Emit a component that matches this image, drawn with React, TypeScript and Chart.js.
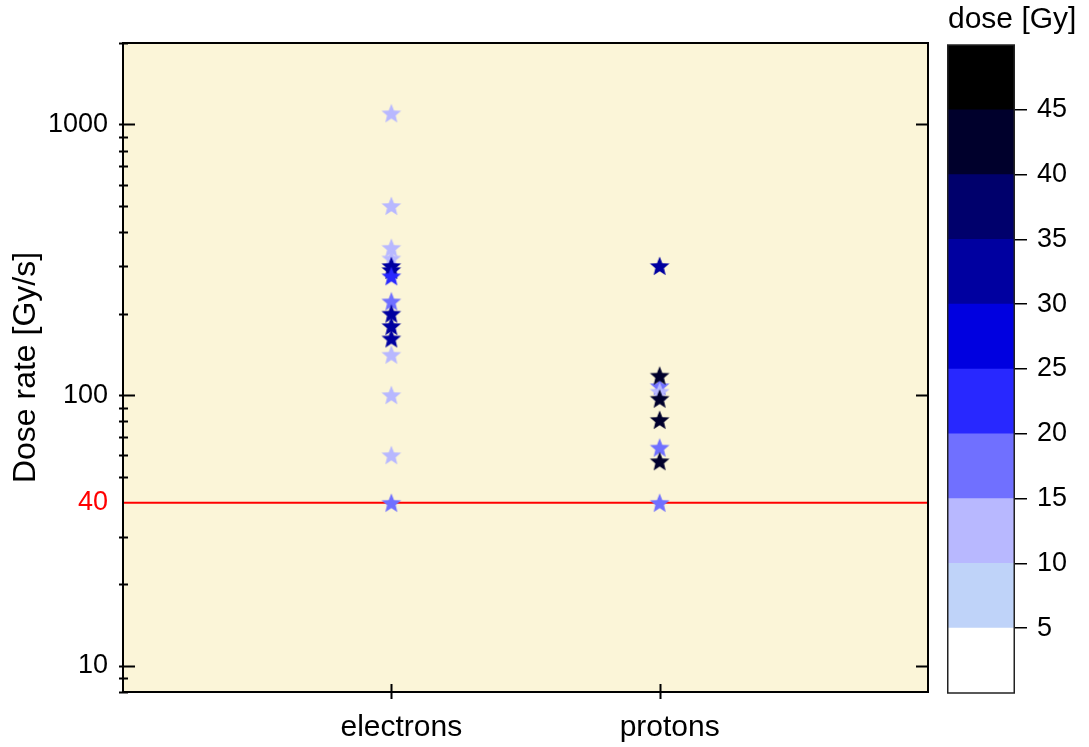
import React, { useEffect, useRef } from "react";
import { Chart, registerables } from "chart.js";

Chart.register(...registerables);

// ---- data ----
const categories = ["electrons", "protons"];

const electronRates = [1100, 500, 350, 320, 300, 290, 275, 222, 200, 180, 162, 141, 100, 60, 40];
const electronDoses = [12, 12, 12, 12, 32, 32, 22, 17, 32, 32, 32, 12, 12, 12, 17];

const protonRates = [300, 108, 103, 118, 97, 81, 64, 57, 40];
const protonDoses = [32, 17, 12, 42, 42, 42, 17, 42, 17];

const thresholdRate = 40;
const rateMin = 8;
const rateMax = 2000;
const labelledRates = [10, 100, 1000];
const minorRates = [8, 9, 20, 30, 50, 60, 70, 80, 90, 200, 300, 400, 500, 600, 700, 800, 900, 2000];

const doseLevels = [0, 5, 10, 15, 20, 25, 30, 35, 40, 45, 50];
const doseColors = [
  "#ffffff",
  "#bfd3f9",
  "#b8b8ff",
  "#7070ff",
  "#2828ff",
  "#0000e0",
  "#0000a0",
  "#00006c",
  "#00002c",
  "#000000",
];

const FONT = "'Liberation Sans', Arial, Helvetica, sans-serif";
const PLOT_BG = "#fbf5d8";

function bandIndex(dose: number): number {
  for (let i = 0; i < doseLevels.length - 1; i++) {
    if (dose >= doseLevels[i] && dose < doseLevels[i + 1]) return i;
  }
  return doseColors.length - 1;
}

// filled five-pointed star sprite used as the point style
function makeStar(color: string): HTMLCanvasElement {
  const size = 24;
  const c = document.createElement("canvas");
  c.width = size;
  c.height = size;
  const g = c.getContext("2d")!;
  const cx = size / 2;
  const cy = size / 2 + 0.8;
  const R = 10.3;
  const r = R * 0.44;
  g.beginPath();
  for (let i = 0; i < 10; i++) {
    const rad = i % 2 === 0 ? R : r;
    const a = -Math.PI / 2 + (i * Math.PI) / 5;
    const px = cx + rad * Math.cos(a);
    const py = cy + rad * Math.sin(a);
    if (i === 0) g.moveTo(px, py);
    else g.lineTo(px, py);
  }
  g.closePath();
  g.fillStyle = color;
  g.fill();
  return c;
}

const plotFrame = {
  id: "plotFrame",
  beforeDatasetsDraw(chart: any) {
    const { ctx, chartArea: a } = chart;
    ctx.save();
    ctx.fillStyle = PLOT_BG;
    ctx.fillRect(a.left, a.top, a.right - a.left, a.bottom - a.top);
    ctx.restore();
  },
  afterDraw(chart: any) {
    const { ctx, chartArea: a, scales } = chart;
    const ys = scales.y;
    const xs = scales.x;
    ctx.save();
    ctx.strokeStyle = "#000";
    ctx.lineWidth = 2;
    ctx.strokeRect(a.left, a.top, a.right - a.left, a.bottom - a.top);
    ctx.beginPath();
    ys.ticks.forEach((t: any) => {
      const py = Math.round(ys.getPixelForValue(t.value)) + 0.5;
      if (t.value === thresholdRate) return;
      const major = labelledRates.includes(t.value);
      ctx.moveTo(a.left - 4, py);
      ctx.lineTo(a.left + (major ? 12 : 5), py);
      if (major) {
        ctx.moveTo(a.right, py);
        ctx.lineTo(a.right - 12, py);
      }
    });
    xs.ticks.forEach((t: any) => {
      const px = Math.round(xs.getPixelForValue(t.value)) + 0.5;
      ctx.moveTo(px, a.bottom + 7);
      ctx.lineTo(px, a.bottom - 8);
    });
    ctx.stroke();
    ctx.restore();
  },
};

const colorbarFrame = {
  id: "colorbarFrame",
  afterDatasetsDraw(chart: any) {
    const { ctx, chartArea: a } = chart;
    ctx.save();
    ctx.strokeStyle = "#222";
    ctx.lineWidth = 1.5;
    ctx.strokeRect(a.left + 0.75, a.top, a.right - a.left - 1.5, a.bottom - a.top);
    ctx.fillStyle = "#000";
    ctx.font = `30px ${FONT}`;
    ctx.textAlign = "left";
    ctx.textBaseline = "alphabetic";
    ctx.fillText("dose [Gy]", 1, 28);
    ctx.restore();
  },
};

export default function App() {
  const mainRef = useRef<HTMLCanvasElement>(null);
  const barRef = useRef<HTMLCanvasElement>(null);

  useEffect(() => {
    const stars = doseColors.map(makeStar);

    const electronPoints = electronRates.map((r) => ({ x: 1, y: r }));
    const protonPoints = protonRates.map((r) => ({ x: 2, y: r }));

    const main = new Chart(mainRef.current!, {
      type: "scatter",
      data: {
        datasets: [
          {
            label: categories[0],
            data: electronPoints,
            pointStyle: electronDoses.map((d) => stars[bandIndex(d)]) as any,
            pointRadius: 11,
          },
          {
            label: categories[1],
            data: protonPoints,
            pointStyle: protonDoses.map((d) => stars[bandIndex(d)]) as any,
            pointRadius: 11,
          },
          {
            type: "line",
            label: "threshold",
            data: [
              { x: 0, y: thresholdRate },
              { x: 3, y: thresholdRate },
            ],
            borderColor: "#ff0000",
            borderWidth: 2,
            pointRadius: 0,
          } as any,
        ],
      },
      options: {
        responsive: false,
        animation: false,
        events: [],
        layout: { padding: { top: 43, right: 12, left: 0, bottom: 0 } },
        plugins: { legend: { display: false }, tooltip: { enabled: false } },
        scales: {
          x: {
            type: "linear",
            min: 0,
            max: 3,
            afterBuildTicks: (s: any) => {
              s.ticks = categories.map((_, i) => ({ value: i + 1 }));
            },
            ticks: {
              autoSkip: false,
              maxRotation: 0,
              color: "#000",
              font: { family: FONT, size: 30 },
              padding: 18,
              labelOffset: 10,
              callback: (v: any) => categories[Number(v) - 1] ?? "",
            },
            grid: { display: false, drawTicks: false },
            border: { display: false },
            afterFit: (s: any) => {
              s.height = 55;
            },
          },
          y: {
            type: "logarithmic",
            min: rateMin,
            max: rateMax,
            afterBuildTicks: (s: any) => {
              s.ticks = [...minorRates, ...labelledRates, thresholdRate]
                .sort((p, q) => p - q)
                .map((v) => ({ value: v }));
            },
            ticks: {
              autoSkip: false,
              padding: 15,
              font: { family: FONT, size: 27 },
              color: (c: any) => (c.tick && c.tick.value === thresholdRate ? "#ff0000" : "#000"),
              callback: (v: any) =>
                labelledRates.includes(Number(v)) || Number(v) === thresholdRate ? String(v) : "",
            },
            grid: { display: false, drawTicks: false },
            border: { display: false },
            title: {
              display: true,
              text: "Dose rate [Gy/s]",
              color: "#000",
              font: { family: FONT, size: 32 },
              padding: { top: 7, bottom: 0 },
            },
            afterFit: (s: any) => {
              s.width = 123;
            },
          },
        },
      },
      plugins: [plotFrame],
    });

    const bar = new Chart(barRef.current!, {
      type: "bar",
      data: {
        labels: ["dose"],
        datasets: doseColors.map((c, i) => ({
          label: `${doseLevels[i]}-${doseLevels[i + 1]}`,
          data: [doseLevels[i + 1] - doseLevels[i]],
          backgroundColor: c,
          borderWidth: 0,
          barPercentage: 1,
          categoryPercentage: 1,
        })),
      },
      options: {
        responsive: false,
        animation: false,
        events: [],
        layout: { padding: { top: 45, bottom: 54, left: 0, right: 0 } },
        plugins: { legend: { display: false }, tooltip: { enabled: false } },
        scales: {
          x: { display: false, stacked: true },
          y: {
            stacked: true,
            position: "right",
            min: doseLevels[0],
            max: doseLevels[doseLevels.length - 1],
            afterBuildTicks: (s: any) => {
              s.ticks = doseLevels.slice(1, -1).map((v) => ({ value: v }));
            },
            ticks: {
              color: "#000",
              padding: 10,
              font: { family: FONT, size: 27 },
            },
            grid: { drawOnChartArea: false, tickLength: 12, color: "#000", lineWidth: 1.5 },
            border: { display: false },
            afterFit: (s: any) => {
              s.width = 74;
            },
          },
        },
      },
      plugins: [colorbarFrame],
    });

    return () => {
      main.destroy();
      bar.destroy();
    };
  }, []);

  return (
    <div
      style={{
        position: "absolute",
        left: 0,
        top: 0,
        width: 1089,
        height: 747,
        background: "#ffffff",
        overflow: "hidden",
      }}
    >
      <canvas ref={mainRef} width={940} height={747} style={{ position: "absolute", left: 0, top: 0 }} />
      <canvas ref={barRef} width={142} height={747} style={{ position: "absolute", left: 947, top: 0 }} />
    </div>
  );
}
